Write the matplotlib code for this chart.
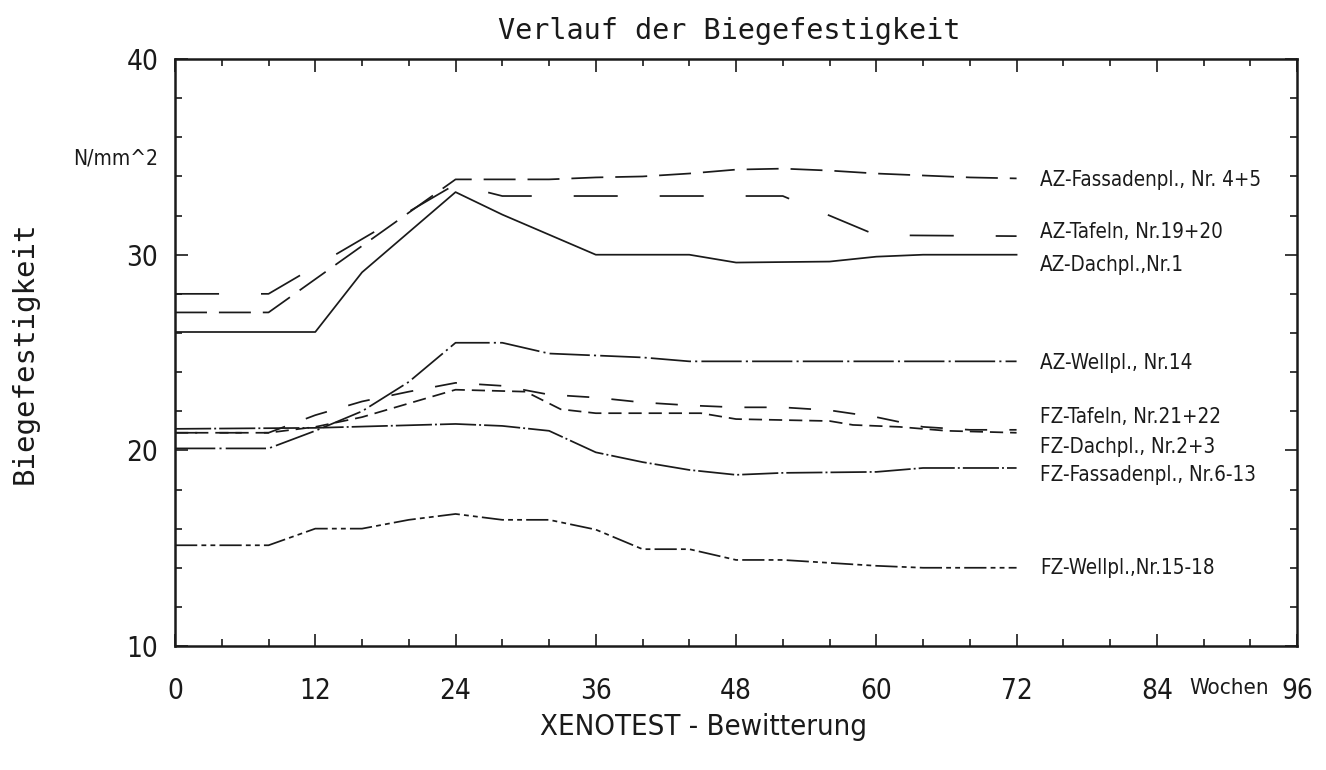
import matplotlib
matplotlib.use("Agg")
import matplotlib.pyplot as plt
from matplotlib.ticker import MultipleLocator

plt.rcParams['lines.scale_dashes'] = False
narrow = dict(family=['DejaVu Sans'], stretch='condensed')
mono = dict(family=['DejaVu Sans Mono', 'DejaVu Sans'])
ink = '#1a1a1a'

# Biegefestigkeit in N/mm^2 over weeks of XENOTEST weathering
az_fassade_w = [0, 8, 24, 32, 36, 40, 44, 48, 52, 56, 60, 64, 68, 72]
az_fassade_v = [27.05, 27.05, 33.85, 33.85, 33.95, 34.0, 34.15, 34.35, 34.4, 34.3, 34.15, 34.05, 33.95, 33.9]

az_tafeln_w = [0, 8, 24, 28, 52, 60, 72]
az_tafeln_v = [28.0, 28.0, 33.6, 33.0, 33.0, 31.0, 30.95]

az_dach_w = [0, 12, 16, 24, 28, 36, 44, 48, 56, 60, 64, 72]
az_dach_v = [26.05, 26.05, 29.1, 33.2, 32.05, 30.0, 30.0, 29.6, 29.65, 29.9, 30.0, 30.0]

az_well_w = [0, 8, 12, 16, 20, 24, 28, 32, 40, 44, 72]
az_well_v = [20.1, 20.1, 21.0, 22.0, 23.5, 25.5, 25.5, 24.95, 24.75, 24.55, 24.55]

fz_tafeln_w = [0, 8, 12, 16, 20, 24, 28, 32, 36, 40, 44, 48, 52, 56, 60, 64, 68, 72]
fz_tafeln_v = [20.9, 20.9, 21.8, 22.5, 23.0, 23.45, 23.3, 22.85, 22.7, 22.45, 22.3, 22.2, 22.2, 22.05, 21.7, 21.2, 21.05, 21.05]

fz_dach_w = [0, 8, 12, 16, 20, 24, 30, 33, 36, 45, 48, 56, 58, 62, 66, 72]
fz_dach_v = [20.9, 20.9, 21.2, 21.7, 22.4, 23.1, 23.0, 22.1, 21.9, 21.9, 21.6, 21.5, 21.3, 21.2, 21.0, 20.9]

fz_fassade_w = [0, 12, 24, 28, 32, 36, 40, 44, 48, 52, 60, 64, 72]
fz_fassade_v = [21.1, 21.15, 21.35, 21.25, 21.0, 19.9, 19.4, 19.0, 18.75, 18.85, 18.9, 19.1, 19.1]

fz_well_w = [0, 8, 12, 16, 20, 24, 28, 32, 36, 40, 44, 48, 52, 60, 64, 72]
fz_well_v = [15.15, 15.15, 16.0, 16.0, 16.45, 16.75, 16.45, 16.45, 15.95, 14.95, 14.95, 14.4, 14.4, 14.1, 14.0, 14.0]

labels = ['AZ-Fassadenpl., Nr. 4+5', 'AZ-Tafeln, Nr.19+20', 'AZ-Dachpl.,Nr.1',
          'AZ-Wellpl., Nr.14', 'FZ-Tafeln, Nr.21+22', 'FZ-Dachpl., Nr.2+3',
          'FZ-Fassadenpl., Nr.6-13', 'FZ-Wellpl.,Nr.15-18']
label_y = [33.84, 31.18, 29.49, 24.48, 21.71, 20.18, 18.75, 13.99]

series = [
    (az_fassade_w, az_fassade_v, (0, (23, 8.6))),
    (az_tafeln_w, az_tafeln_v, (0, (31.7, 30.2))),
    (az_dach_w, az_dach_v, '-'),
    (az_well_w, az_well_v, (0, (29, 3, 1.5, 3))),
    (fz_tafeln_w, fz_tafeln_v, (0, (16, 16))),
    (fz_dach_w, fz_dach_v, (0, (9.5, 5))),
    (fz_fassade_w, fz_fassade_v, (0, (26, 2.2, 1.4, 2.2))),
    (fz_well_w, fz_well_v, (0, (16, 3, 3.5, 3, 3.5, 3))),
]

fig = plt.figure(figsize=(13.26, 7.70), dpi=100)
ax = fig.add_axes([0.132, 0.161, 0.8462, 0.7623])

for w, v, ls in series:
    ax.plot(w, v, color=ink, lw=1.25, linestyle=ls)

for txt, y in zip(labels, label_y):
    ax.text(74.0, y, txt, ha='left', va='center', fontsize=14.8, color=ink, **narrow)

ax.set_xlim(0, 96)
ax.set_ylim(10, 40)
ax.xaxis.set_major_locator(MultipleLocator(12))
ax.xaxis.set_minor_locator(MultipleLocator(4))
ax.yaxis.set_major_locator(MultipleLocator(10))
ax.yaxis.set_minor_locator(MultipleLocator(2))
ax.tick_params(which='both', direction='in', top=True, right=True, width=1.2, color=ink)
ax.tick_params(which='major', length=9)
ax.tick_params(which='minor', length=5)
ax.tick_params(axis='x', which='major', pad=22, labelsize=20, labelcolor=ink)
ax.tick_params(axis='y', which='major', pad=12, labelsize=20, labelcolor=ink)

ax.set_xticks([0, 12, 24, 36, 48, 60, 72, 84, 96])
ax.set_xticklabels(['0', '12', '24', '36', '48', '60', '72', '84', '96'])
for lab in ax.get_xticklabels() + ax.get_yticklabels():
    lab.set_family(narrow['family'])
    lab.set_stretch(narrow['stretch'])

# unit sits between the last two tick labels
ax.text(90.2, -0.0716, 'Wochen', transform=ax.get_xaxis_transform(), ha='center', va='center',
        fontsize=16, color=ink, **narrow)

for s in ax.spines.values():
    s.set_linewidth(1.8)
    s.set_color(ink)

ax.text(0.494, 1.0477, 'Verlauf der Biegefestigkeit', transform=ax.transAxes, ha='center',
        va='center', fontsize=20.5, color=ink, **mono)
ax.text(0.4706, -0.138, 'XENOTEST - Bewitterung', transform=ax.transAxes, ha='center',
        va='center', fontsize=21, color=ink, **narrow)
ax.text(-0.1337, 0.499, 'Biegefestigkeit', transform=ax.transAxes, ha='center', va='center',
        rotation=90, fontsize=21, color=ink, **mono)
ax.text(-0.015, 0.831, 'N/mm^2', transform=ax.transAxes, ha='right', va='center',
        fontsize=15, color=ink, **narrow)

fig.savefig('out.png', dpi=100)
